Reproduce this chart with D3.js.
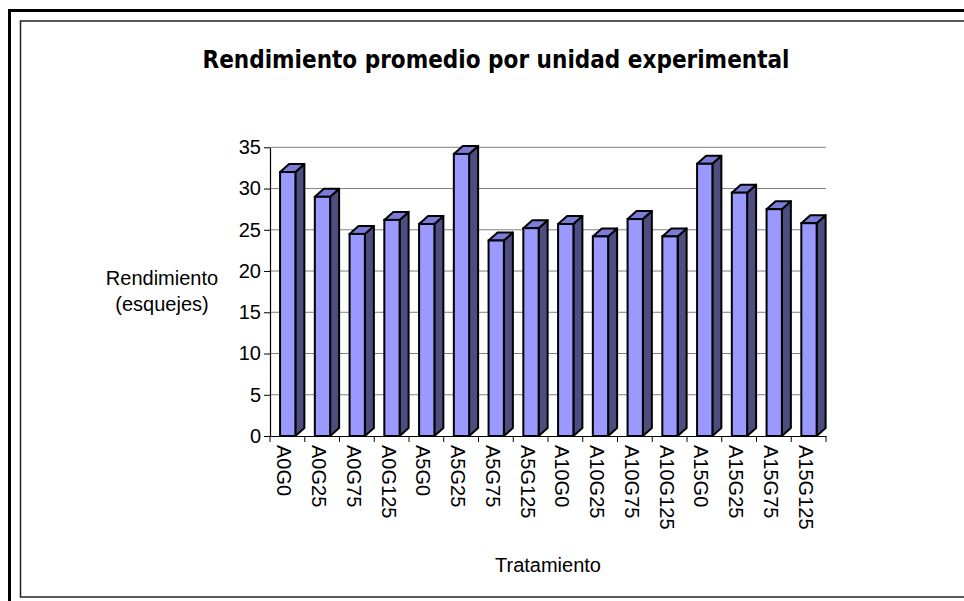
<!DOCTYPE html>
<html>
<head>
<meta charset="utf-8">
<script src="https://cdn.jsdelivr.net/npm/d3@7"></script>
<style>
  body { margin: 0; background: #fff; }
  svg { display: block; }
</style>
</head>
<body>
<svg id="chart" width="964" height="601"></svg>
<script>
// treatments and average yield
const tratamientos = ['A0G0', 'A0G25', 'A0G75', 'A0G125', 'A5G0', 'A5G25', 'A5G75', 'A5G125',
  'A10G0', 'A10G25', 'A10G75', 'A10G125', 'A15G0', 'A15G25', 'A15G75', 'A15G125']
const rendimiento = [32.0, 29.0, 24.5, 26.2, 25.7, 34.2, 23.7, 25.2,
  25.7, 24.2, 26.3, 24.2, 33.0, 29.5, 27.5, 25.8]
const yTicks = [0, 5, 10, 15, 20, 25, 30, 35]

const svg = d3.select('#chart')
const font = "'Liberation Sans', Arial, sans-serif"

// frames
svg.append('rect')
  .attr('x', 9.5).attr('y', 10.5).attr('width', 1000).attr('height', 700)
  .attr('fill', 'none').attr('stroke', '#000').attr('stroke-width', 3)
svg.append('rect')
  .attr('x', 20.5).attr('y', 21).attr('width', 1000).attr('height', 576)
  .attr('fill', '#fff').attr('stroke', '#222').attr('stroke-width', 1.5)

const x = d3.scaleBand().domain(tratamientos).range([270, 826])
const y = d3.scaleLinear().domain([0, 35]).range([436, 147.3])

const bw = x.bandwidth()
const depthX = 9
const depthY = 8

// gridlines
svg.append('g')
  .selectAll('line')
  .data(yTicks.filter(d => d > 0))
  .enter()
  .append('line')
  .attr('x1', 270).attr('x2', 826)
  .attr('y1', d => y(d)).attr('y2', d => y(d))
  .attr('stroke', '#808080').attr('stroke-width', 1)

// y axis
const yAxis = svg.append('g')
  .attr('transform', 'translate(270,0)')
  .call(d3.axisLeft(y).tickValues(yTicks).tickSize(6).tickPadding(3).tickSizeOuter(0))
yAxis.select('.domain').attr('stroke', '#000').attr('stroke-width', 1.2)
yAxis.selectAll('.tick line').attr('stroke', '#000')
yAxis.selectAll('text')
  .attr('font-family', font).attr('font-size', 20).attr('fill', '#000')

// bars, drawn as front, side and top faces
const bars = svg.append('g')
  .selectAll('g')
  .data(tratamientos.map((t, i) => ({ t: t, v: rendimiento[i] })))
  .enter()
  .append('g')

function fx (d) { return x(d.t) + bw * 0.29 }
const fw = bw * 0.44

bars.append('path')
  .attr('d', d => {
    const x1 = fx(d) + fw, yt = y(d.v), yb = y(0)
    return `M${x1},${yt}L${x1 + depthX},${yt - depthY}L${x1 + depthX},${yb - depthY}L${x1},${yb}Z`
  })
  .attr('fill', '#4d4d80').attr('stroke', '#000').attr('stroke-width', 2)
  .attr('stroke-linejoin', 'round')

bars.append('path')
  .attr('d', d => {
    const x0 = fx(d), x1 = x0 + fw, yt = y(d.v)
    return `M${x0},${yt}L${x0 + depthX},${yt - depthY}L${x1 + depthX},${yt - depthY}L${x1},${yt}Z`
  })
  .attr('fill', '#7b7bd8').attr('stroke', '#000').attr('stroke-width', 2)
  .attr('stroke-linejoin', 'round')

bars.append('rect')
  .attr('x', d => fx(d))
  .attr('y', d => y(d.v))
  .attr('width', fw)
  .attr('height', d => y(0) - y(d.v))
  .attr('fill', '#9999ff').attr('stroke', '#000').attr('stroke-width', 2)

// x axis
const xAxis = svg.append('g')
  .attr('transform', 'translate(0,436)')
  .call(d3.axisBottom(x).tickSize(0).tickFormat(''))
xAxis.select('.domain').attr('stroke', '#000').attr('stroke-width', 1.2)

svg.append('g')
  .selectAll('line')
  .data(d3.range(tratamientos.length + 1))
  .enter()
  .append('line')
  .attr('x1', i => 270 + i * bw).attr('x2', i => 270 + i * bw)
  .attr('y1', 436).attr('y2', 442)
  .attr('stroke', '#000')

svg.append('g')
  .selectAll('text')
  .data(tratamientos)
  .enter()
  .append('text')
  .attr('transform', d => `translate(${x(d) + bw / 2 - 10},445) rotate(90)`)
  .attr('font-family', font).attr('font-size', 20).attr('fill', '#000')
  .text(d => d)

// titles
svg.append('text')
  .attr('x', 496).attr('y', 68)
  .attr('text-anchor', 'middle')
  .attr('font-family', "'Comic Sans MS', 'DejaVu Sans', sans-serif")
  .attr('font-weight', 'bold').attr('font-size', 24)
  .attr('textLength', 587).attr('lengthAdjust', 'spacingAndGlyphs')
  .text('Rendimiento promedio por unidad experimental')

svg.append('text')
  .attr('x', 162).attr('y', 285)
  .attr('text-anchor', 'middle')
  .attr('font-family', font).attr('font-size', 20)
  .text('Rendimiento')
svg.append('text')
  .attr('x', 162).attr('y', 311)
  .attr('text-anchor', 'middle')
  .attr('font-family', font).attr('font-size', 20)
  .text('(esquejes)')

svg.append('text')
  .attr('x', 548).attr('y', 572)
  .attr('text-anchor', 'middle')
  .attr('font-family', font).attr('font-size', 20)
  .text('Tratamiento')
</script>
</body>
</html>
